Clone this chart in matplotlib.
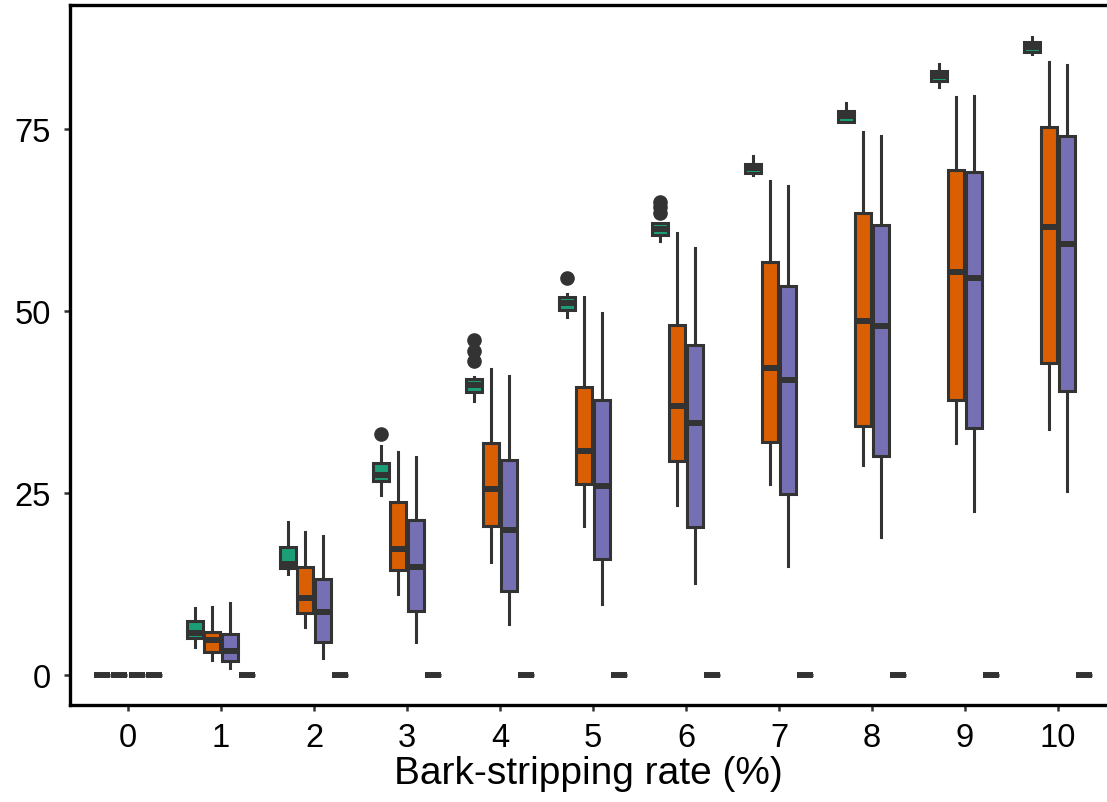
import matplotlib
matplotlib.use("Agg")
import matplotlib.pyplot as plt

plt.rcParams['font.family'] = ['Liberation Sans', 'DejaVu Sans']

categories = [0, 1, 2, 3, 4, 5, 6, 7, 8, 9, 10]
series_names = ["S1", "S2", "S3", "S4"]
series_colors = ["#1B9E77", "#D95F02", "#7570B3", "#E7298A"]

green_q1 = [0, 5.1, 14.7, 26.6, 38.9, 50.1, 60.4, 69.0, 76.0, 81.5, 85.6]
green_med = [0, 5.8, 15.3, 27.4, 39.8, 51.1, 61.2, 69.6, 76.7, 82.2, 86.2]
green_q3 = [0, 7.4, 17.6, 29.1, 40.7, 51.9, 62.0, 70.2, 77.5, 83.0, 86.9]
green_lo = [0, 3.8, 13.9, 24.7, 37.6, 49.2, 59.6, 68.7, 76.0, 80.8, 85.3]
green_hi = [0, 9.2, 21.0, 31.5, 40.9, 52.3, 62.0, 71.3, 78.6, 83.9, 87.6]
green_fliers = [[], [], [], [33.1], [46.0, 44.5, 43.1], [54.5],
                [65.0, 64.2, 63.5], [], [], [], []]

orange_q1 = [0, 3.2, 8.5, 14.4, 20.5, 26.2, 29.4, 32.0, 34.2, 37.8, 42.9]
orange_med = [0, 4.8, 10.6, 17.3, 25.5, 30.8, 37.0, 42.2, 48.6, 55.3, 61.5]
orange_q3 = [0, 5.9, 14.8, 23.8, 31.9, 39.6, 48.1, 56.7, 63.5, 69.4, 75.3]
orange_lo = [0, 2.1, 6.6, 11.1, 15.5, 20.5, 23.4, 26.2, 28.8, 31.9, 33.8]
orange_hi = [0, 9.3, 19.6, 30.6, 42.0, 51.9, 60.7, 67.9, 74.6, 79.4, 84.2]
orange_fliers = [[] for _ in categories]

purple_q1 = [0, 1.9, 4.5, 8.8, 11.5, 15.9, 20.3, 24.9, 30.1, 33.9, 39.0]
purple_med = [0, 3.3, 8.7, 14.8, 19.9, 26.0, 34.6, 40.5, 47.9, 54.5, 59.2]
purple_q3 = [0, 5.6, 13.2, 21.3, 29.5, 37.8, 45.3, 53.4, 61.8, 69.1, 74.0]
purple_lo = [0, 1.0, 2.3, 4.5, 7.0, 9.8, 12.6, 15.0, 19.0, 22.5, 25.3]
purple_hi = [0, 9.9, 19.1, 29.9, 41.1, 49.7, 58.6, 67.2, 74.0, 79.5, 83.8]
purple_fliers = [[] for _ in categories]

zero_vals = [0, 0, 0, 0, 0, 0, 0, 0, 0, 0, 0]
zero_fliers = [[] for _ in categories]

series_stats = [
    (green_q1, green_med, green_q3, green_lo, green_hi, green_fliers),
    (orange_q1, orange_med, orange_q3, orange_lo, orange_hi, orange_fliers),
    (purple_q1, purple_med, purple_q3, purple_lo, purple_hi, purple_fliers),
    (zero_vals, zero_vals, zero_vals, zero_vals, zero_vals, zero_fliers),
]

xlabel = "Bark-stripping rate (%)"
yticks = [0, 25, 50, 75]

edge = "#333333"
fig = plt.figure(figsize=(11.07, 8.03), dpi=100)
ax = fig.add_axes([0.0632, 0.121, 1.0 - 0.0632, 0.9925 - 0.121])

n = len(series_stats)
dodge = 0.75
slot = dodge / n
box_w = slot * 0.9

for si, (q1, med, q3, lo, hi, fl) in enumerate(series_stats):
    offset = -dodge / 2 + slot * (si + 0.5)
    stats = []
    for ci in range(len(categories)):
        stats.append(dict(med=med[ci], q1=q1[ci], q3=q3[ci],
                          whislo=lo[ci], whishi=hi[ci], fliers=fl[ci]))
    pos = [c + offset for c in categories]
    ax.bxp(stats, positions=pos, widths=box_w, patch_artist=True,
           showcaps=False, manage_ticks=False,
           boxprops=dict(facecolor=series_colors[si], edgecolor=edge, linewidth=2.2),
           medianprops=dict(color=edge, linewidth=4.3, solid_capstyle='butt'),
           whiskerprops=dict(color=edge, linewidth=2.2),
           flierprops=dict(marker='o', markerfacecolor=edge, markeredgecolor=edge,
                           markersize=9.5, linestyle='none'))

ax.set_xlim(-0.624, 10.527)
ax.set_ylim(-4.1, 92.0)
ax.set_xticks(categories)
ax.set_xticklabels([str(c) for c in categories])
ax.set_yticks(yticks)
ax.set_yticklabels([str(v) for v in yticks])

for side in ['left', 'top', 'bottom']:
    ax.spines[side].set_linewidth(2.4)
    ax.spines[side].set_color('black')
ax.spines['right'].set_visible(False)

ax.tick_params(axis='both', length=4.5, width=1.8, color=edge, labelsize=23.5,
               labelcolor='black')
ax.tick_params(axis='x', pad=8)
ax.tick_params(axis='y', pad=9)
ax.set_xlabel(xlabel, fontsize=28, labelpad=1)

fig.savefig("out.png", dpi=100)
